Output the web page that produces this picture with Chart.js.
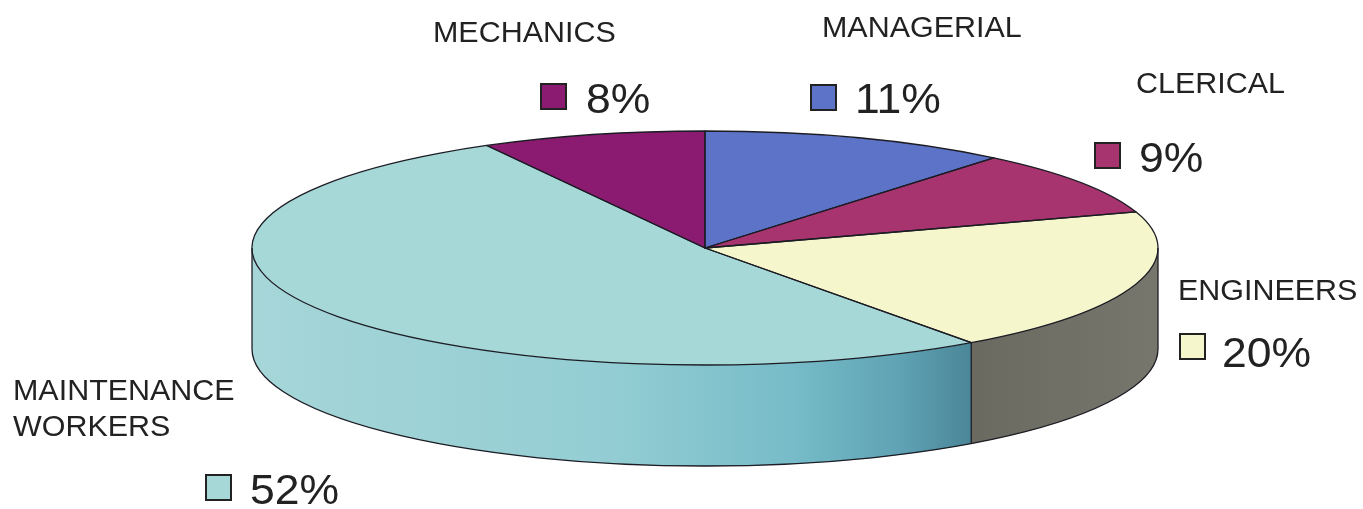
<!DOCTYPE html>
<html>
<head>
<meta charset="utf-8">
<script src="https://cdn.jsdelivr.net/npm/chart.js@4"></script>
<style>
	body { margin: 0; background: #fff; }
	#wrap { width: 1363px; height: 509px; }
</style>
</head>
<body>
<div id="wrap"><canvas id="myChart"></canvas></div>
<script>
// data, clockwise from 12 o'clock
const categories = [['MANAGERIAL'], ['CLERICAL'], ['ENGINEERS'], ['MAINTENANCE', 'WORKERS'], ['MECHANICS']];
const shares = [11, 9, 20, 52, 8];
const topColors = ['#5d73c7', '#a8346f', '#f5f6cb', '#a7d8d8', '#8b1b70'];
// side wall shading: [position, colour] stops, left to right
const sideColors = [
	[[0, '#3f4f8c'], [1, '#3f4f8c']],
	[[0, '#76224f'], [1, '#76224f']],
	[[0, '#6b6a61'], [1, '#77766d']],
	[[0, '#a6d6d8'], [0.5, '#93cdd3'], [0.75, '#77bcc8'], [0.9, '#5fa3b4'], [1, '#4a8698']],
	[[0, '#601250'], [1, '#601250']]
];

// label placement (name, box, percent)
const labelPos = [
	{ nameX: 822, nameY: 37, boxX: 811, boxY: 85, pctX: 855, pctY: 113 },
	{ nameX: 1136, nameY: 93, boxX: 1095, boxY: 143, pctX: 1139, pctY: 172 },
	{ nameX: 1178, nameY: 300, boxX: 1180, boxY: 334, pctX: 1222, pctY: 367 },
	{ nameX: 13, nameY: 400, boxX: 206, boxY: 475, pctX: 250, pctY: 504 },
	{ nameX: 433, nameY: 42, boxX: 541, boxY: 84, pctX: 586, pctY: 113 }
];

const pieRx = 453;
const pieRy = 117;
const depth = 101;
const lineColor = '#1c1c24';

function stretchText(ctx, text, x, y, sx) {
	ctx.save();
	ctx.translate(x, y);
	ctx.scale(sx, 1);
	ctx.fillText(text, 0, 0);
	ctx.restore();
}

const pie3d = {
	id: 'pie3d',
	beforeDatasetsDraw(chart) {
		const ctx = chart.ctx;
		const arcs = chart.getDatasetMeta(0).data;
		const cx = arcs[0].x, cy = arcs[0].y, r = arcs[0].outerRadius;

		// side walls, front half only
		arcs.forEach((arc, i) => {
			const a = Math.max(arc.startAngle, 0);
			const b = Math.min(arc.endAngle, Math.PI);
			if (a >= b) return;
			const x1 = cx + pieRx * Math.cos(b);
			const x2 = cx + pieRx * Math.cos(a);
			const grad = ctx.createLinearGradient(x1, 0, x2, 0);
			sideColors[i].forEach(s => grad.addColorStop(s[0], s[1]));
			ctx.beginPath();
			ctx.ellipse(cx, cy, pieRx, pieRy, 0, a, b);
			ctx.lineTo(cx + pieRx * Math.cos(b), cy + depth + pieRy * Math.sin(b));
			ctx.ellipse(cx, cy + depth, pieRx, pieRy, 0, b, a, true);
			ctx.closePath();
			ctx.fillStyle = grad;
			ctx.fill();
		});

		// squash the library's circle into the top face
		ctx.save();
		ctx.translate(cx, cy);
		ctx.scale(pieRx / r, pieRy / r);
		ctx.translate(-cx, -cy);
	},
	afterDatasetsDraw(chart) {
		const ctx = chart.ctx;
		ctx.restore();
		const arcs = chart.getDatasetMeta(0).data;
		const cx = arcs[0].x, cy = arcs[0].y;

		ctx.save();
		ctx.strokeStyle = lineColor;
		ctx.lineWidth = 1.3;
		ctx.lineJoin = 'round';
		arcs.forEach(arc => {
			ctx.beginPath();
			ctx.moveTo(cx, cy);
			ctx.ellipse(cx, cy, pieRx, pieRy, 0, arc.startAngle, arc.endAngle);
			ctx.closePath();
			ctx.stroke();
		});

		// wall edges
		ctx.beginPath();
		ctx.ellipse(cx, cy + depth, pieRx, pieRy, 0, 0, Math.PI);
		ctx.stroke();
		const edges = [0, Math.PI];
		arcs.forEach(arc => {
			if (arc.startAngle > 0 && arc.startAngle < Math.PI) edges.push(arc.startAngle);
		});
		edges.forEach(t => {
			const x = cx + pieRx * Math.cos(t);
			const y = cy + pieRy * Math.sin(t);
			ctx.beginPath();
			ctx.moveTo(x, y);
			ctx.lineTo(x, y + depth);
			ctx.stroke();
		});
		ctx.restore();
	},
	afterDraw(chart) {
		const ctx = chart.ctx;
		ctx.save();
		ctx.textBaseline = 'alphabetic';
		categories.forEach((lines, i) => {
			const p = labelPos[i];
			ctx.fillStyle = '#222';
			ctx.font = '29px "Liberation Sans", Arial, sans-serif';
			lines.forEach((line, k) => stretchText(ctx, line, p.nameX, p.nameY + k * 36, 1.05));

			ctx.fillStyle = topColors[i];
			ctx.fillRect(p.boxX, p.boxY, 25, 25);
			ctx.strokeStyle = '#222';
			ctx.lineWidth = 2;
			ctx.strokeRect(p.boxX, p.boxY, 25, 25);

			ctx.fillStyle = '#222';
			ctx.font = '42px "Liberation Sans", Arial, sans-serif';
			stretchText(ctx, shares[i] + '%', p.pctX, p.pctY, 1.06);
		});
		ctx.restore();
	}
};

const data = {
	labels: categories,
	datasets: [{
		data: shares,
		backgroundColor: topColors,
		borderWidth: 0
	}]
};

const config = {
	type: 'pie',
	data,
	options: {
		responsive: true,
		maintainAspectRatio: false,
		animation: false,
		events: [],
		layout: { padding: { left: 47, right: 0, top: 0, bottom: 13 } },
		plugins: {
			legend: { display: false },
			tooltip: { enabled: false }
		}
	},
	plugins: [pie3d]
};

const myChart = new Chart(document.getElementById('myChart'), config);
</script>
</body>
</html>
